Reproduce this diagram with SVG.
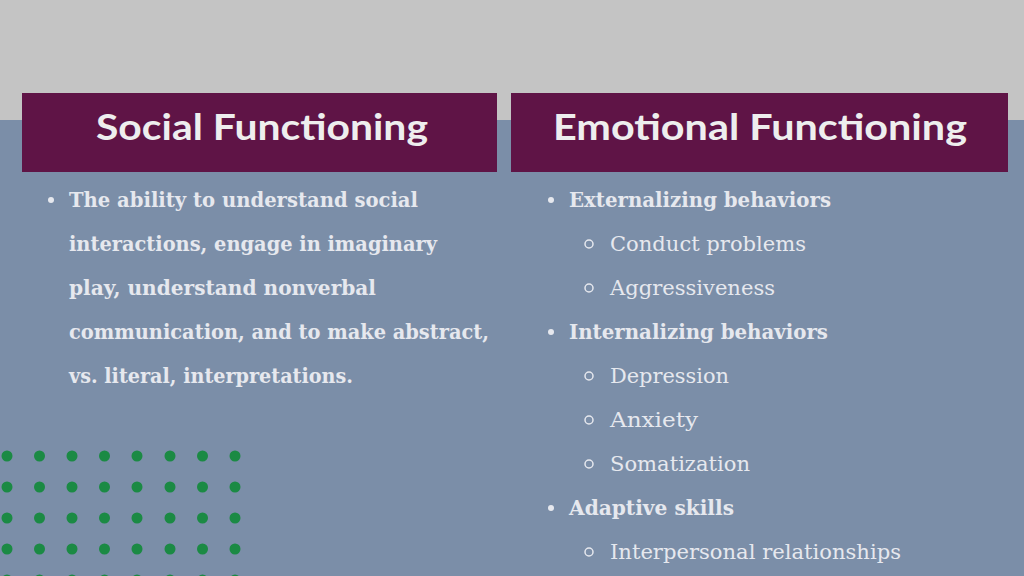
<svg xmlns="http://www.w3.org/2000/svg" width="1024" height="576" viewBox="0 0 1024 576">
<style>
.h{font-family:Lato,"Liberation Sans",sans-serif;font-weight:bold;font-size:36px;fill:#eeeeee}
.b{font-family:"DejaVu Serif","Liberation Serif",serif;font-weight:bold;font-size:20px;fill:#e6e8ee}
.s{font-family:"DejaVu Serif","Liberation Serif",serif;font-size:21px;fill:#e6e8ee}
.d{fill:#1b8a44}
</style>
<rect width="1024" height="576" fill="#7b8ea8"/>
<rect width="1024" height="120" fill="#c4c4c4"/>
<g id="social">
<rect x="22" y="93" width="475" height="79" fill="#5f1446"/>
<text class="h" x="262" y="140" text-anchor="middle" textLength="332" lengthAdjust="spacingAndGlyphs">Social Functioning</text>
<circle cx="51" cy="200" r="3" fill="#e6e8ee"/>
<text class="b" x="69" y="207" textLength="349" lengthAdjust="spacingAndGlyphs">The ability to understand social</text>
<text class="b" x="69" y="251" textLength="368" lengthAdjust="spacingAndGlyphs">interactions, engage in imaginary</text>
<text class="b" x="69" y="295" textLength="307" lengthAdjust="spacingAndGlyphs">play, understand nonverbal</text>
<text class="b" x="69" y="339" textLength="420" lengthAdjust="spacingAndGlyphs">communication, and to make abstract,</text>
<text class="b" x="69" y="383" textLength="284" lengthAdjust="spacingAndGlyphs">vs. literal, interpretations.</text>
</g>
<g id="emotional">
<rect x="511" y="93" width="497" height="79" fill="#5f1446"/>
<text class="h" x="760" y="140" text-anchor="middle" textLength="414" lengthAdjust="spacingAndGlyphs">Emotional Functioning</text>
<g fill="#e6e8ee">
<circle cx="551" cy="200" r="3"/><circle cx="551" cy="332" r="3"/><circle cx="551" cy="508" r="3"/>
</g>
<g fill="none" stroke="#e6e8ee" stroke-width="1.5">
<circle cx="589" cy="244" r="4"/><circle cx="589" cy="288" r="4"/><circle cx="589" cy="376" r="4"/><circle cx="589" cy="420" r="4"/><circle cx="589" cy="464" r="4"/><circle cx="589" cy="552" r="4"/>
</g>
<text class="b" x="569" y="207" textLength="262" lengthAdjust="spacingAndGlyphs">Externalizing behaviors</text>
<text class="s" x="610" y="251" textLength="196" lengthAdjust="spacingAndGlyphs">Conduct problems</text>
<text class="s" x="610" y="295" textLength="165" lengthAdjust="spacingAndGlyphs">Aggressiveness</text>
<text class="b" x="569" y="339" textLength="259" lengthAdjust="spacingAndGlyphs">Internalizing behaviors</text>
<text class="s" x="610" y="383" textLength="119" lengthAdjust="spacingAndGlyphs">Depression</text>
<text class="s" x="610" y="427" textLength="88" lengthAdjust="spacingAndGlyphs">Anxiety</text>
<text class="s" x="610" y="471" textLength="140" lengthAdjust="spacingAndGlyphs">Somatization</text>
<text class="b" x="569" y="515" textLength="165" lengthAdjust="spacingAndGlyphs">Adaptive skills</text>
<text class="s" x="610" y="559" textLength="291" lengthAdjust="spacingAndGlyphs">Interpersonal relationships</text>
</g>
<g id="dots">
<defs><g id="row">
<circle class="d" cx="7" cy="0" r="5.5"/><circle class="d" cx="39.5" cy="0" r="5.5"/><circle class="d" cx="72" cy="0" r="5.5"/><circle class="d" cx="104.5" cy="0" r="5.5"/><circle class="d" cx="137" cy="0" r="5.5"/><circle class="d" cx="170" cy="0" r="5.5"/><circle class="d" cx="202.5" cy="0" r="5.5"/><circle class="d" cx="235" cy="0" r="5.5"/>
</g></defs>
<use href="#row" y="456"/><use href="#row" y="487"/><use href="#row" y="518"/><use href="#row" y="549"/><use href="#row" y="580"/>
</g>
</svg>
